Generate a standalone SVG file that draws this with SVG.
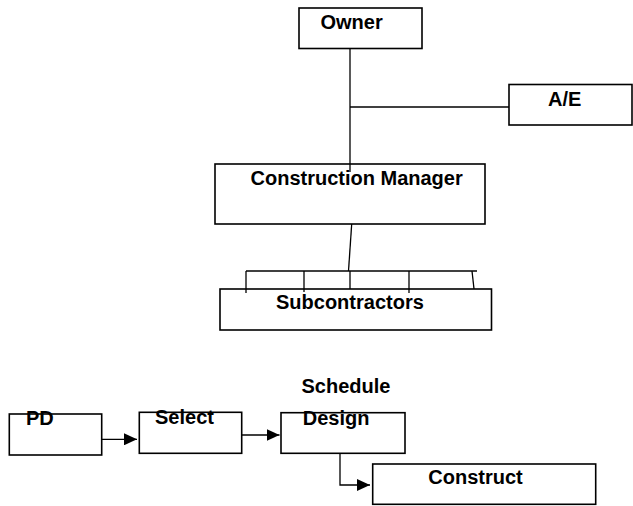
<svg xmlns="http://www.w3.org/2000/svg" width="633" height="506" viewBox="0 0 633 506">
<style>
.box{fill:#fff;stroke:#000;stroke-width:1.6}
.open{fill:none}
.ln{fill:none;stroke:#000;stroke-width:1.3}
text{font-family:"Liberation Sans",Arial,sans-serif;font-weight:bold;font-size:20px;fill:#000}
</style>
<defs>
<marker id="ah" markerWidth="13" markerHeight="12" refX="13" refY="6" orient="auto" markerUnits="userSpaceOnUse">
<path d="M0,0 L13,6 L0,12 Z" fill="#000"/>
</marker>
</defs>
<g id="connectors">
<line class="ln" x1="350" y1="48" x2="350" y2="172"/>
<line class="ln" x1="350" y1="107" x2="509" y2="107"/>
<line class="ln" x1="351.7" y1="224" x2="348.5" y2="271"/>
<line class="ln" x1="246" y1="271" x2="477" y2="271"/>
<line class="ln" x1="246" y1="271" x2="246" y2="293"/>
<line class="ln" x1="304" y1="271" x2="304" y2="292"/>
<line class="ln" x1="350" y1="271" x2="350" y2="289"/>
<line class="ln" x1="409" y1="271" x2="409" y2="293"/>
<line class="ln" x1="472" y1="271" x2="474" y2="289"/>
<line class="ln" x1="101.7" y1="439.3" x2="137" y2="439.3" marker-end="url(#ah)"/>
<line class="ln" x1="241.7" y1="435" x2="279.5" y2="435" marker-end="url(#ah)"/>
<polyline class="ln" points="340,453.3 340,485 370,485" marker-end="url(#ah)"/>
</g>
<g id="owner">
<rect class="box" x="299" y="8" width="123" height="40.5"/>
<text x="320.5" y="29">Owner</text>
</g>
<g id="ae">
<rect class="box" x="509" y="84.5" width="123" height="40.5"/>
<text x="548" y="106">A/E</text>
</g>
<g id="cm">
<rect class="box open" x="215" y="164" width="270" height="60"/>
<text x="250.5" y="185">Construction Manager</text>
</g>
<g id="subcontractors">
<rect class="box open" x="220" y="289" width="271.5" height="41"/>
<text x="276" y="308.5">Subcontractors</text>
</g>
<g id="schedule-label">
<text x="301.5" y="393.3">Schedule</text>
</g>
<g id="pd">
<rect class="box" x="9.3" y="414" width="92.4" height="41"/>
<text x="26" y="425">PD</text>
</g>
<g id="select">
<rect class="box" x="139.3" y="412.3" width="102.4" height="41"/>
<text x="155" y="424">Select</text>
</g>
<g id="design">
<rect class="box" x="281" y="412.7" width="124" height="40.6"/>
<text x="302.7" y="425">Design</text>
</g>
<g id="construct">
<rect class="box" x="372.7" y="464" width="223" height="40.3"/>
<text x="428.3" y="484.3">Construct</text>
</g>
</svg>
